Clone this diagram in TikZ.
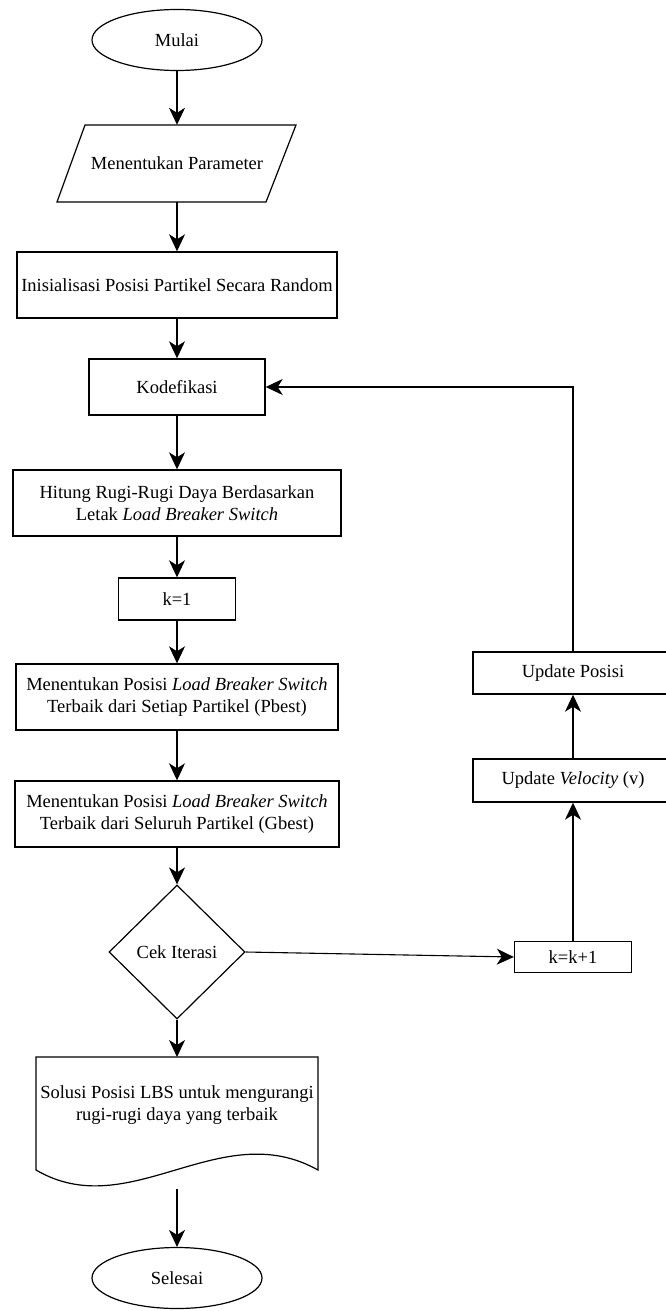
\documentclass[tikz,border=0pt]{standalone}
\usepackage{fontspec}
\setmainfont{Liberation Serif}
\usetikzlibrary{shapes.geometric,arrows.meta}

\begin{document}
\begin{tikzpicture}[x=1pt,y=-1pt,
  font=\fontsize{18.5}{22.5}\selectfont,
  box/.style={draw,line width=1.4pt,rectangle,inner sep=2pt,align=center},
  term/.style={draw,line width=1.2pt,ellipse,minimum width=170pt,minimum height=61pt,inner sep=0pt},
  arr/.style={line width=1.1pt,-{Stealth[length=17pt,width=16pt,inset=5pt]}}]
 \useasboundingbox (0,0) rectangle (665,1311);
 % main column
 \node[term] (mulai) at (177,40){Mulai};
 \draw[line width=1.2pt] (85,125) -- (296,125) -- (266,202) -- (57,202) -- cycle;
 \node[minimum width=180pt,minimum height=77pt,inner sep=0pt] (param) at (177,163.5){Menentukan Parameter};
 \node[box,minimum width=320pt,minimum height=66pt] (init) at (177,285){Inisialisasi Posisi Partikel Secara Random};
 \node[box,minimum width=176pt,minimum height=56pt] (kode) at (177,387){Kodefikasi};
 \node[box,minimum width=328pt,minimum height=66pt] (hitung) at (177,503){Hitung Rugi-Rugi Daya Berdasarkan\\Letak \textit{Load Breaker Switch}};
 \node[box,minimum width=117pt,minimum height=42pt] (k1) at (177,599){k=1};
 \node[box,minimum width=322pt,minimum height=66pt] (pbest) at (177,697){Menentukan Posisi \textit{Load Breaker Switch}\\Terbaik dari Setiap Partikel (Pbest)};
 \node[box,minimum width=324pt,minimum height=66pt] (gbest) at (177,814){Menentukan Posisi \textit{Load Breaker Switch}\\Terbaik dari Seluruh Partikel (Gbest)};
 \node[draw,line width=1.2pt,diamond,minimum width=136pt,minimum height=134pt,inner sep=0pt] (cek) at (177,952){Cek Iterasi};
 \draw[line width=1.2pt] (36,1057) -- (318,1057) -- (318,1170)
   .. controls (220,1115) and (130,1225) .. (36,1170) -- cycle;
 \node[align=center] (solusi) at (177,1105){Solusi Posisi LBS untuk mengurangi\\rugi-rugi daya yang terbaik};
 \coordinate (soltop) at (177,1057);
 \coordinate (solbot) at (177,1189);
 \node[term] (selesai) at (177,1278){Selesai};
 % loop column
 \node[box,minimum width=200pt,minimum height=42pt] (upos) at (573,673){Update Posisi};
 \node[box,minimum width=200pt,minimum height=43pt] (uvel) at (573,780.5){Update \textit{Velocity} (v)};
 \node[box,minimum width=117pt,minimum height=31pt] (kk1) at (573,957){k=k+1};
 % arrows
 \foreach \a/\b in {mulai/param,param/init,init/kode,kode/hitung,hitung/k1,k1/pbest,pbest/gbest,gbest/cek}
   \draw[arr] (\a.south) -- (\a.south |- \b.north);
 \draw[arr] (cek.south) -- (soltop);
 \draw[arr] (solbot) -- (selesai.north);
 \draw[arr] (cek.east) -- (kk1.west);
 \draw[arr] (kk1.north) -- (uvel.south);
 \draw[arr] (uvel.north) -- (upos.south);
 \draw[arr] (upos.north) |- (kode.east);
\end{tikzpicture}
\end{document}
